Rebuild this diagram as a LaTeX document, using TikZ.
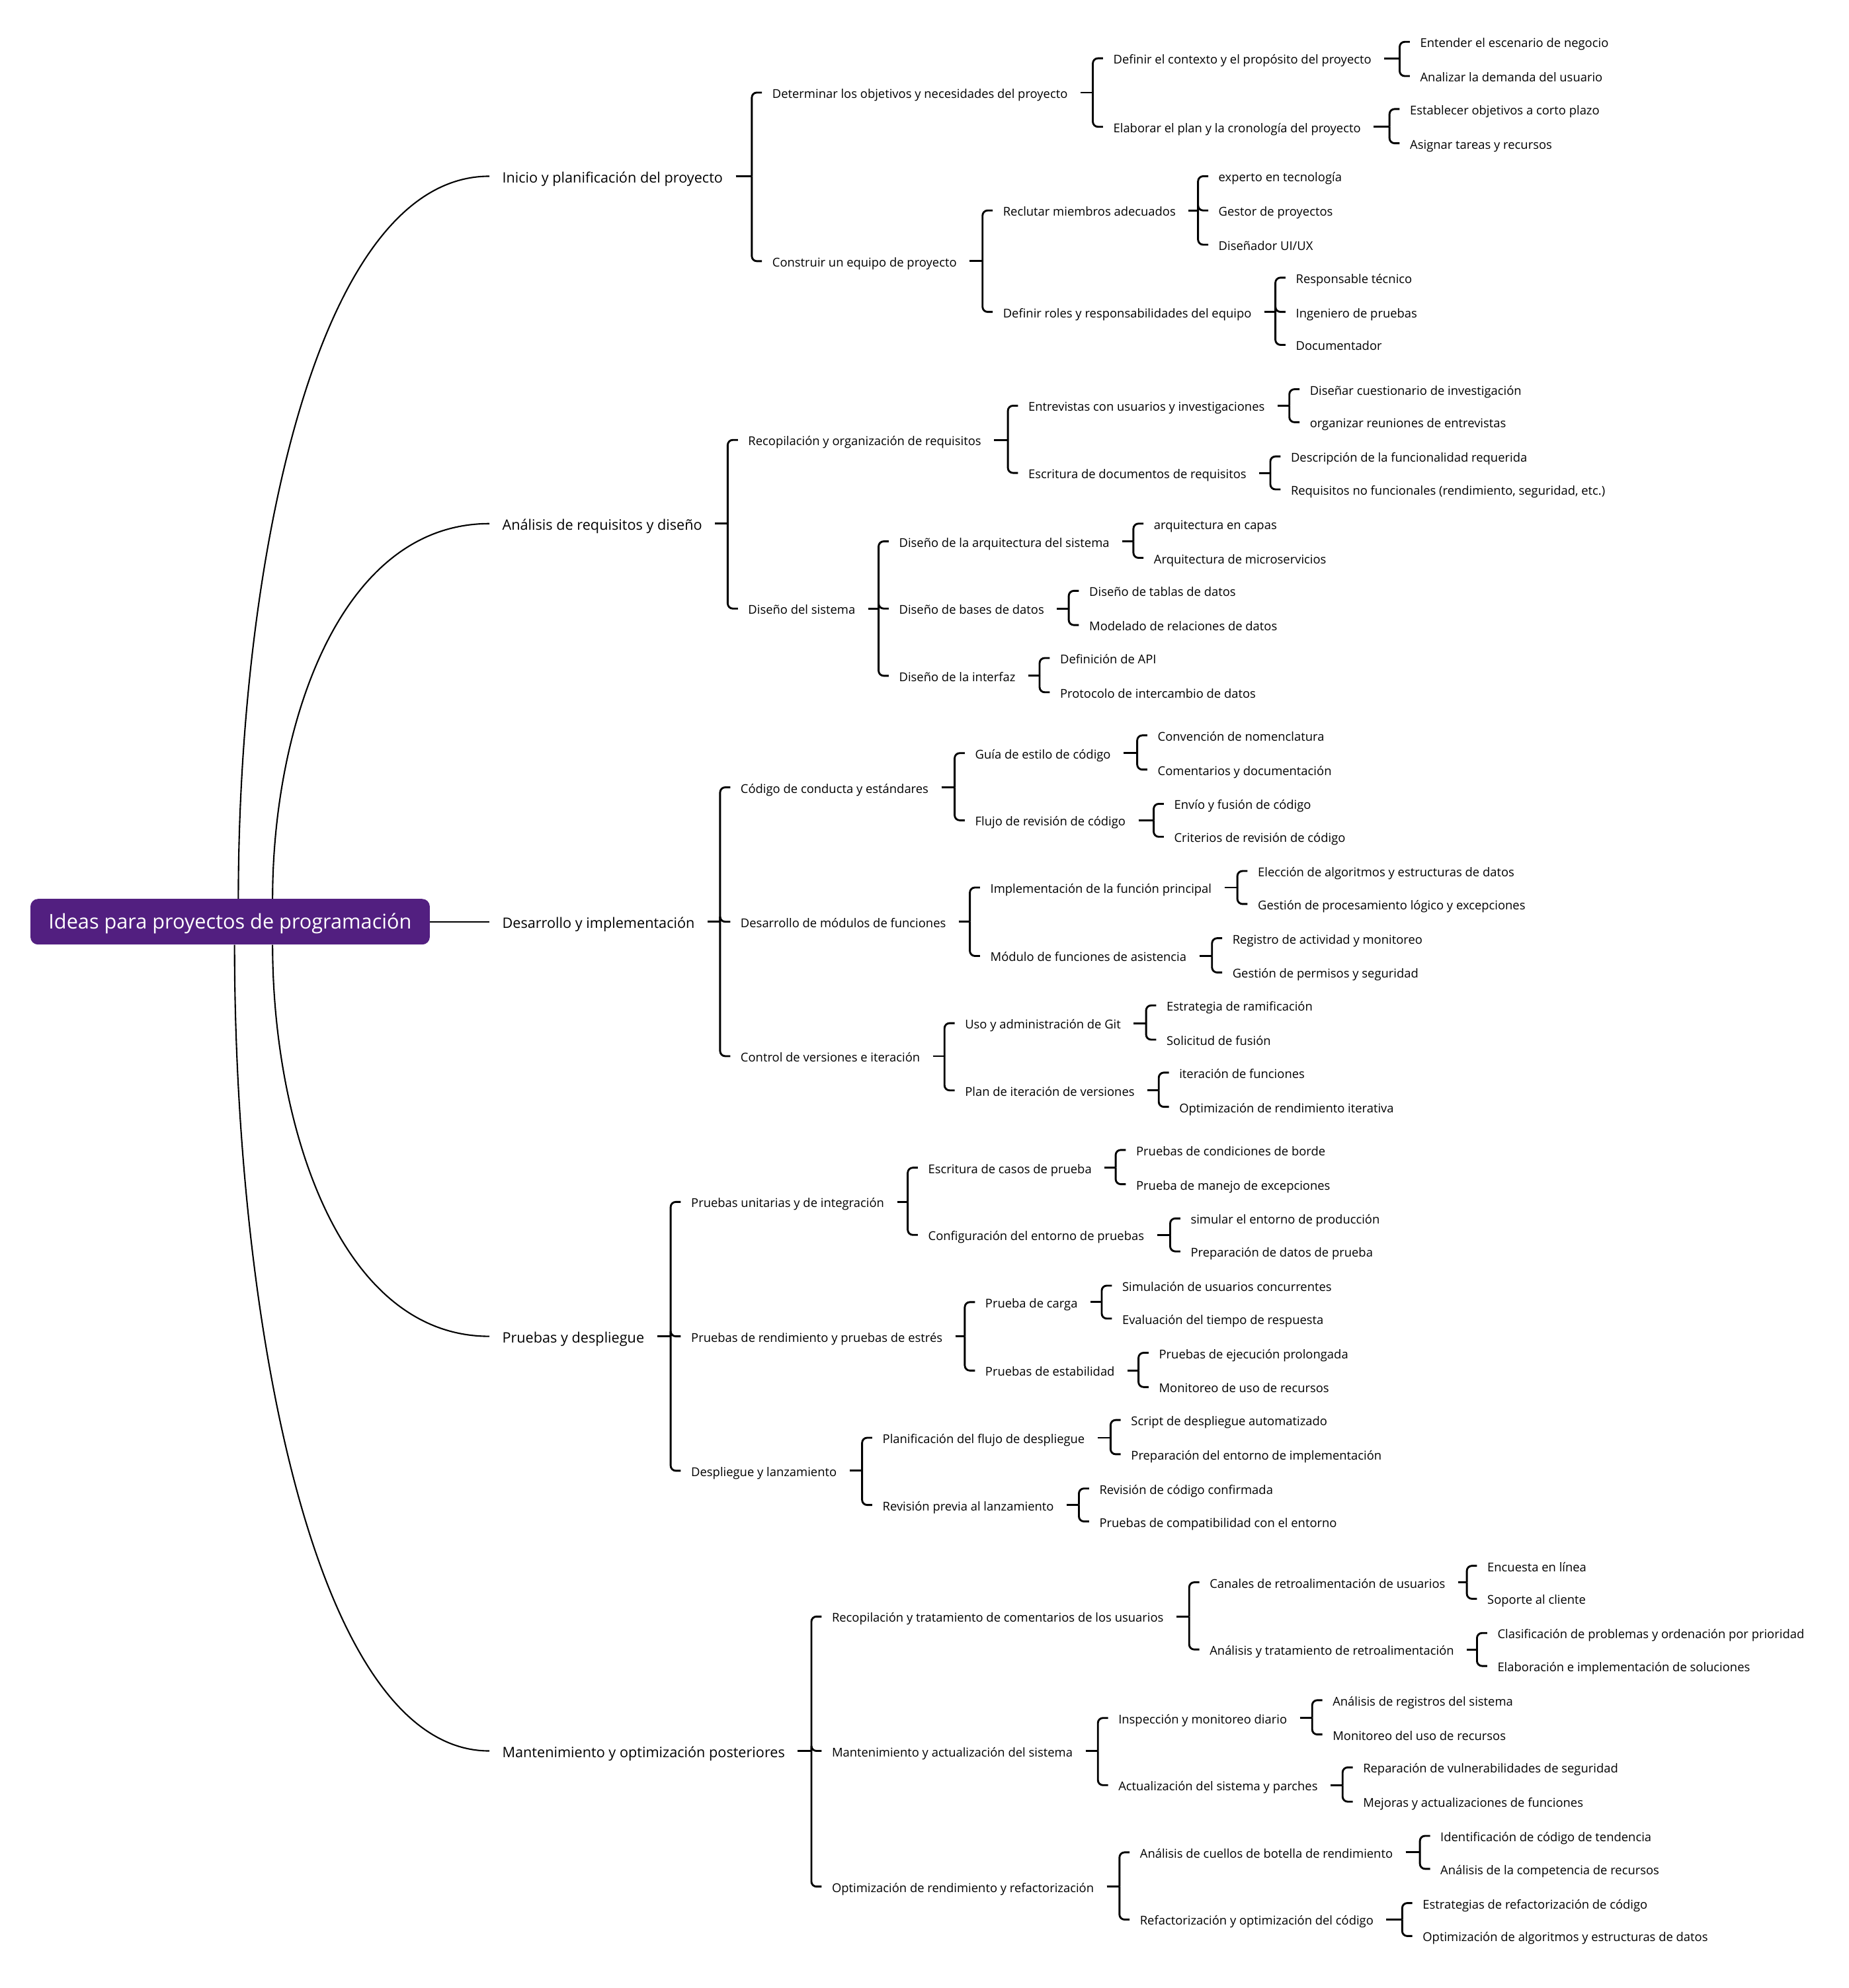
\documentclass[tikz,border=0pt]{standalone}
\usepackage{fontspec}
\setmainfont{Open Sans}

\definecolor{rootpurple}{RGB}{82,31,128}
\newcommand\rootfont{\fontsize{16pt}{19pt}\selectfont}
\newcommand\topicfont{\fontsize{11.3pt}{13pt}\selectfont}
\newcommand\itemfont{\fontsize{9.6pt}{11pt}\selectfont}

\tikzset{
  root/.style={fill=rootpurple, text=white, font=\rootfont, rounded corners=6pt,
    minimum width=315pt, minimum height=36pt, inner sep=0pt, text height=11.4pt, text depth=0pt},
  topic/.style={anchor=west, inner sep=0pt, font=\topicfont, text height=10.1pt, text depth=0pt},
  item/.style={anchor=west, inner sep=0pt, font=\itemfont, text height=8.85pt, text depth=0pt},
  curve/.style={line width=1.1pt},
  brk/.style={line width=1.5pt},
  brkarm/.style={line width=1.5pt, rounded corners=4pt},
}

\begin{document}
\begin{tikzpicture}[x=1pt, y=-1pt]
  \useasboundingbox (0,0) rectangle (1458,1568);

  \node[root] (root) at (181.5,727) {Ideas para proyectos de programación};

  \node[topic] (ini) at (396,139) {Inicio y planificación del proyecto};
  \node[topic] (ana) at (396,413) {Análisis de requisitos y diseño};
  \node[topic] (des) at (396,727) {Desarrollo y implementación};
  \node[topic] (pru) at (396,1054) {Pruebas y despliegue};
  \node[topic] (man) at (396,1381) {Mantenimiento y optimización posteriores};

  \draw[curve] ([xshift=6.5pt]root.north) .. controls +(0,-256.5) and +(-138.6,0) .. ([xshift=-10pt]ini.west);
  \draw[curve] ([xshift=33.5pt]root.north) .. controls +(0,-133.2) and +(-119.7,0) .. ([xshift=-10pt]ana.west);
  \draw[curve] (root.east) -- ([xshift=-10pt]des.west);
  \draw[curve] ([xshift=33.5pt]root.south) .. controls +(0,139) and +(-119.7,0) .. ([xshift=-10pt]pru.west);
  \draw[curve] ([xshift=3.5pt]root.south) .. controls +(0,286.2) and +(-140.7,0) .. ([xshift=-10pt]man.west);

  % Inicio
  \node[item] (ini1) at (609,73) {Determinar los objetivos y necesidades del proyecto};
  \node[item] (ini2) at (609,206) {Construir un equipo de proyecto};
  \node[item] (ini11) at (878,46) {Definir el contexto y el propósito del proyecto};
  \node[item] (ini12) at (878,100) {Elaborar el plan y la cronología del proyecto};
  \node[item] (ini111) at (1120,33) {Entender el escenario de negocio};
  \node[item] (ini112) at (1120,60) {Analizar la demanda del usuario};
  \node[item] (ini121) at (1112,86) {Establecer objetivos a corto plazo};
  \node[item] (ini122) at (1112,113) {Asignar tareas y recursos};
  \node[item] (ini21) at (791,166) {Reclutar miembros adecuados};
  \node[item] (ini22) at (791,246) {Definir roles y responsabilidades del equipo};
  \node[item] (ini211) at (961,139) {experto en tecnología};
  \node[item] (ini212) at (961,166) {Gestor de proyectos};
  \node[item] (ini213) at (961,193) {Diseñador UI/UX};
  \node[item] (ini221) at (1022,219) {Responsable técnico};
  \node[item] (ini222) at (1022,246) {Ingeniero de pruebas};
  \node[item] (ini223) at (1022,272) {Documentador};

  % Analisis
  \node[item] (ana1) at (590,347) {Recopilación y organización de requisitos};
  \node[item] (ana2) at (590,480) {Diseño del sistema};
  \node[item] (ana11) at (811,320) {Entrevistas con usuarios y investigaciones};
  \node[item] (ana12) at (811,373) {Escritura de documentos de requisitos};
  \node[item] (ana111) at (1033,307) {Diseñar cuestionario de investigación};
  \node[item] (ana112) at (1033,333) {organizar reuniones de entrevistas};
  \node[item] (ana121) at (1018,360) {Descripción de la funcionalidad requerida};
  \node[item] (ana122) at (1018,386) {Requisitos no funcionales (rendimiento, seguridad, etc.)};
  \node[item] (ana21) at (709,427) {Diseño de la arquitectura del sistema};
  \node[item] (ana22) at (709,480) {Diseño de bases de datos};
  \node[item] (ana23) at (709,533) {Diseño de la interfaz};
  \node[item] (ana211) at (910,413) {arquitectura en capas};
  \node[item] (ana212) at (910,440) {Arquitectura de microservicios};
  \node[item] (ana221) at (859,466) {Diseño de tablas de datos};
  \node[item] (ana222) at (859,493) {Modelado de relaciones de datos};
  \node[item] (ana231) at (836,519) {Definición de API};
  \node[item] (ana232) at (836,546) {Protocolo de intercambio de datos};

  % Desarrollo
  \node[item] (des1) at (584,621) {Código de conducta y estándares};
  \node[item] (des2) at (584,727) {Desarrollo de módulos de funciones};
  \node[item] (des3) at (584,833) {Control de versiones e iteración};
  \node[item] (des11) at (769,594) {Guía de estilo de código};
  \node[item] (des12) at (769,647) {Flujo de revisión de código};
  \node[item] (des111) at (913,580) {Convención de nomenclatura};
  \node[item] (des112) at (913,607) {Comentarios y documentación};
  \node[item] (des121) at (926,634) {Envío y fusión de código};
  \node[item] (des122) at (926,660) {Criterios de revisión de código};
  \node[item] (des21) at (781,700) {Implementación de la función principal};
  \node[item] (des22) at (781,754) {Módulo de funciones de asistencia};
  \node[item] (des211) at (992,687) {Elección de algoritmos y estructuras de datos};
  \node[item] (des212) at (992,713) {Gestión de procesamiento lógico y excepciones};
  \node[item] (des221) at (972,740) {Registro de actividad y monitoreo};
  \node[item] (des222) at (972,767) {Gestión de permisos y seguridad};
  \node[item] (des31) at (761,807) {Uso y administración de Git};
  \node[item] (des32) at (761,860) {Plan de iteración de versiones};
  \node[item] (des311) at (920,793) {Estrategia de ramificación};
  \node[item] (des312) at (920,820) {Solicitud de fusión};
  \node[item] (des321) at (930,846) {iteración de funciones};
  \node[item] (des322) at (930,873) {Optimización de rendimiento iterativa};

  % Pruebas
  \node[item] (pru1) at (545,948) {Pruebas unitarias y de integración};
  \node[item] (pru2) at (545,1054) {Pruebas de rendimiento y pruebas de estrés};
  \node[item] (pru3) at (545,1160) {Despliegue y lanzamiento};
  \node[item] (pru11) at (732,921) {Escritura de casos de prueba};
  \node[item] (pru12) at (732,974) {Configuración del entorno de pruebas};
  \node[item] (pru111) at (896,907) {Pruebas de condiciones de borde};
  \node[item] (pru112) at (896,934) {Prueba de manejo de excepciones};
  \node[item] (pru121) at (939,961) {simular el entorno de producción};
  \node[item] (pru122) at (939,987) {Preparación de datos de prueba};
  \node[item] (pru21) at (777,1027) {Prueba de carga};
  \node[item] (pru22) at (777,1081) {Pruebas de estabilidad};
  \node[item] (pru211) at (885,1014) {Simulación de usuarios concurrentes};
  \node[item] (pru212) at (885,1040) {Evaluación del tiempo de respuesta};
  \node[item] (pru221) at (914,1067) {Pruebas de ejecución prolongada};
  \node[item] (pru222) at (914,1094) {Monitoreo de uso de recursos};
  \node[item] (pru31) at (696,1134) {Planificación del flujo de despliegue};
  \node[item] (pru32) at (696,1187) {Revisión previa al lanzamiento};
  \node[item] (pru311) at (892,1120) {Script de despliegue automatizado};
  \node[item] (pru312) at (892,1147) {Preparación del entorno de implementación};
  \node[item] (pru321) at (867,1174) {Revisión de código confirmada};
  \node[item] (pru322) at (867,1200) {Pruebas de compatibilidad con el entorno};

  % Mantenimiento
  \node[item] (man1) at (656,1275) {Recopilación y tratamiento de comentarios de los usuarios};
  \node[item] (man2) at (656,1381) {Mantenimiento y actualización del sistema};
  \node[item] (man3) at (656,1488) {Optimización de rendimiento y refactorización};
  \node[item] (man11) at (954,1248) {Canales de retroalimentación de usuarios};
  \node[item] (man12) at (954,1301) {Análisis y tratamiento de retroalimentación};
  \node[item] (man111) at (1173,1235) {Encuesta en línea};
  \node[item] (man112) at (1173,1261) {Soporte al cliente};
  \node[item] (man121) at (1181,1288) {Clasificación de problemas y ordenación por prioridad};
  \node[item] (man122) at (1181,1314) {Elaboración e implementación de soluciones};
  \node[item] (man21) at (882,1355) {Inspección y monitoreo diario};
  \node[item] (man22) at (882,1408) {Actualización del sistema y parches};
  \node[item] (man211) at (1051,1341) {Análisis de registros del sistema};
  \node[item] (man212) at (1051,1368) {Monitoreo del uso de recursos};
  \node[item] (man221) at (1075,1394) {Reparación de vulnerabilidades de seguridad};
  \node[item] (man222) at (1075,1421) {Mejoras y actualizaciones de funciones};
  \node[item] (man31) at (899,1461) {Análisis de cuellos de botella de rendimiento};
  \node[item] (man32) at (899,1514) {Refactorización y optimización del código};
  \node[item] (man311) at (1136,1448) {Identificación de código de tendencia};
  \node[item] (man312) at (1136,1474) {Análisis de la competencia de recursos};
  \node[item] (man321) at (1122,1501) {Estrategias de refactorización de código};
  \node[item] (man322) at (1122,1527) {Optimización de algoritmos y estructuras de datos};

  % brackets
  \foreach \p/\kids in {ini/{ini1,ini2}, ini1/{ini11,ini12}, ini11/{ini111,ini112},
      ini12/{ini121,ini122}, ini2/{ini21,ini22}, ini21/{ini211,ini212,ini213},
      ini22/{ini221,ini222,ini223},
      ana/{ana1,ana2}, ana1/{ana11,ana12}, ana11/{ana111,ana112}, ana12/{ana121,ana122},
      ana2/{ana21,ana22,ana23}, ana21/{ana211,ana212}, ana22/{ana221,ana222},
      ana23/{ana231,ana232},
      des/{des1,des2,des3}, des1/{des11,des12}, des11/{des111,des112}, des12/{des121,des122},
      des2/{des21,des22}, des21/{des211,des212}, des22/{des221,des222},
      des3/{des31,des32}, des31/{des311,des312}, des32/{des321,des322},
      pru/{pru1,pru2,pru3}, pru1/{pru11,pru12}, pru11/{pru111,pru112}, pru12/{pru121,pru122},
      pru2/{pru21,pru22}, pru21/{pru211,pru212}, pru22/{pru221,pru222},
      pru3/{pru31,pru32}, pru31/{pru311,pru312}, pru32/{pru321,pru322},
      man/{man1,man2,man3}, man1/{man11,man12}, man11/{man111,man112}, man12/{man121,man122},
      man2/{man21,man22}, man21/{man211,man212}, man22/{man221,man222},
      man3/{man31,man32}, man31/{man311,man312}, man32/{man321,man322}}
    \foreach \k in \kids {
      \draw[brk] ([xshift=10pt]\p.east) -- ([xshift=-16pt]\p.east -| \k.west);
      \draw[brkarm] ([xshift=-16pt]\p.east -| \k.west) |- ([xshift=-8pt]\k.west);
    };
\end{tikzpicture}
\end{document}
